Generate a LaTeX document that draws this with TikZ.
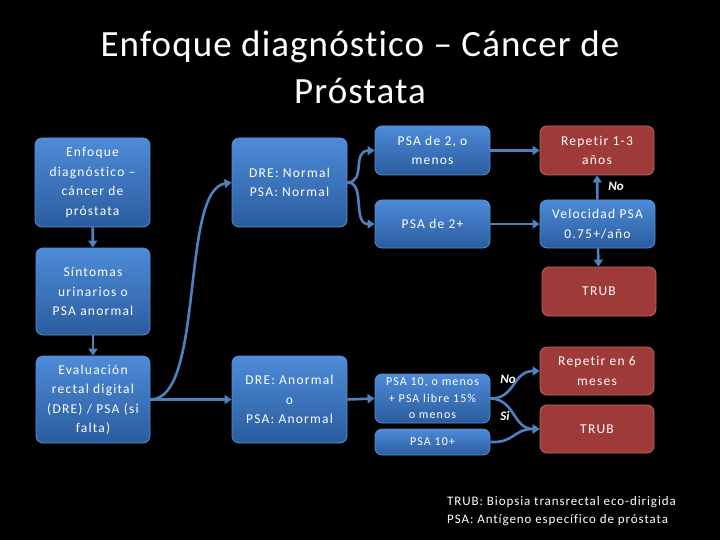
\documentclass[tikz,border=0pt]{standalone}
\usepackage{fontspec}
\setmainfont[Ligatures=NoCommon]{Carlito}
\newfontfamily\spaced[LetterSpace=9,Ligatures=NoCommon]{Carlito}
\newfontfamily\footfont[LetterSpace=7,Ligatures=NoCommon]{Carlito}
\newfontfamily\titlefont[LetterSpace=3,Ligatures=NoCommon]{Carlito}
\usetikzlibrary{arrows.meta}
\definecolor{bluetop}{HTML}{4E8BD8}
\definecolor{bluebot}{HTML}{2A5C9E}
\definecolor{blueedge}{HTML}{5A8FD0}
\definecolor{redfill}{HTML}{9E3B39}
\definecolor{rededge}{HTML}{B86A68}
\definecolor{arrowc}{HTML}{4F81BD}
\tikzset{
  bluebox/.style={rounded corners=7pt, draw=blueedge, line width=0.8pt, top color=bluetop, bottom color=bluebot, text=white, align=center, font=\spaced\fontsize{13.5}{19.5}\selectfont, inner sep=0pt},
  redbox/.style={rounded corners=7pt, draw=rededge, line width=0.8pt, fill=redfill, text=white, align=center, font=\spaced\fontsize{13.5}{19.5}\selectfont, inner sep=0pt},
  conn/.style={draw=arrowc, line width=2.6pt, -{Triangle[length=7pt,width=9pt]}},
  lab/.style={text=white, font=\fontsize{13}{15}\selectfont\bfseries\itshape, inner sep=0pt}
}
\begin{document}
\begin{tikzpicture}[x=1pt,y=-1pt]
\fill[black] (0,0) rectangle (720,540);
\useasboundingbox (0,0) rectangle (720,540);
% title
\node[text=white, font=\titlefont\fontsize{37}{47}\selectfont, align=center] (title) at (360,67) {Enfoque diagnóstico – Cáncer de\\Próstata};
% boxes
\node[bluebox, minimum width=115pt, minimum height=89pt] (enf) at (92.5,182.5) {Enfoque\\diagnóstico –\\cáncer de\\próstata};
\node[bluebox, minimum width=114pt, minimum height=87pt] (sin) at (93,291.5) {Síntomas\\urinarios o\\PSA anormal};
\node[bluebox, minimum width=114pt, minimum height=87pt] (eva) at (93,399.5) {Evaluación\\rectal digital\\(DRE) / PSA (si\\falta)};
\node[bluebox, minimum width=115pt, minimum height=89pt] (drn) at (289.5,182.5) {DRE: Normal\\PSA: Normal};
\node[bluebox, minimum width=115pt, minimum height=87pt] (dra) at (289.5,399.5) {DRE: Anormal\\o\\PSA: Anormal};
\node[bluebox, minimum width=115pt, minimum height=49pt] (p2) at (432.5,150.5) {PSA de 2, o\\menos};
\node[bluebox, minimum width=115pt, minimum height=48pt] (p2p) at (432.5,224) {PSA de 2+};
\node[redbox, minimum width=114pt, minimum height=49pt] (rep1) at (597,150.5) {Repetir 1-3\\años};
\node[bluebox, minimum width=115pt, minimum height=48pt] (vel) at (597.5,224) {Velocidad PSA\\0.75+/año};
\node[redbox, minimum width=114pt, minimum height=49pt] (trub1) at (599,291.5) {TRUB};
\node[bluebox, minimum width=115pt, minimum height=49pt, font=\spaced\fontsize{12}{16.5}\selectfont] (p10) at (432.5,398.5) {PSA 10, o menos\\+ PSA libre 15\%\\o menos};
\node[bluebox, minimum width=115pt, minimum height=26pt, font=\spaced\fontsize{12}{16}\selectfont] (p10p) at (432.5,442) {PSA 10+};
\node[redbox, minimum width=114pt, minimum height=48pt] (rep6) at (597,371) {Repetir en 6\\meses};
\node[redbox, minimum width=114pt, minimum height=48pt] (trub2) at (597,429) {TRUB};
% connectors
\draw[conn] (enf) -- (sin);
\draw[conn] (sin) -- (eva);
\draw[conn] (eva.east) -- (dra.west);
\draw[conn] (eva.east) .. controls (205,400) and (180,190) .. (drn.west);
\draw[conn] (drn.east) .. controls (366,182) and (352,151) .. (p2.west);
\draw[conn] (drn.east) .. controls (366,182) and (352,224) .. (p2p.west);
\draw[conn] (p2) -- (rep1);
\draw[conn] (p2p) -- (vel);
\draw[conn] (vel) -- (rep1);
\draw[conn] (vel) -- (trub1);
\draw[conn] (dra.east) -- (p10.west);
\draw[conn] (p10.east) .. controls (515,399) and (513,371) .. (rep6.west);
\draw[conn] (p10.east) .. controls (515,399) and (513,429) .. (trub2.west);
\draw[conn] (p10p.east) .. controls (515,443) and (513,429) .. (trub2.west);
% labels
\node[lab] (no1) at (616,186) {No};
\node[lab] (no2) at (508,379) {No};
\node[lab] (si) at (505,416) {Si};
% footer
\node[text=white, font=\footfont\fontsize{13}{18}\selectfont, align=left, anchor=north west, inner sep=0pt] (foot) at (447,496) {TRUB: Biopsia transrectal eco-dirigida\\PSA: Antígeno específico de próstata};
\end{tikzpicture}
\end{document}
